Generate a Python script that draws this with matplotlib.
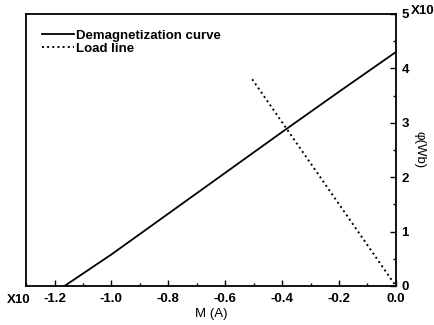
import numpy as np
from matplotlib import pyplot as plt
from matplotlib import ticker as tk

# demagnetization curve
demag_m = [-1.165, -1.0, -0.8, -0.6, -0.4, -0.2, 0.0]
demag_phi = [0.0, 0.58, 1.33, 2.08, 2.83, 3.57, 4.30]

# load line
load_m = [-0.505, 0.0]
load_phi = [3.80, 0.0]

xticks = [-1.2, -1.0, -0.8, -0.6, -0.4, -0.2, 0.0]
yticks = [0, 1, 2, 3, 4, 5]

plt.rcParams.update({'font.family': 'Liberation Sans', 'font.weight': 'bold',
                     'font.size': 9.5})

fig = plt.figure(figsize=(4.35, 3.25), dpi=100)
ax = fig.add_axes([0.06, 0.12, 0.85, 0.837])

ax.plot(demag_m, demag_phi, '-', color='black', linewidth=1.3,
        label='Demagnetization curve')
ax.plot(load_m, load_phi, ':', color='black', linewidth=1.4,
        label='Load line')

ax.set_xlim(-1.3, 0.0)
ax.set_ylim(0, 5)

ax.set_xticks(xticks)
ax.xaxis.set_major_formatter(tk.FormatStrFormatter('%.1f'))
ax.xaxis.set_minor_locator(tk.MultipleLocator(0.1))
ax.set_yticks(yticks)
ax.yaxis.set_minor_locator(tk.MultipleLocator(0.5))

ax.yaxis.tick_right()
ax.yaxis.set_label_position('right')
ax.tick_params(which='both', direction='in', top=False, left=False,
               right=True, bottom=True, width=1.0)
ax.tick_params(which='major', length=4)
ax.tick_params(axis='y', which='major', pad=4)
ax.tick_params(axis='x', which='major', pad=5)
ax.tick_params(which='minor', length=2)
for s in ax.spines.values():
    s.set_linewidth(1.3)

ax.set_xlabel('M (A)', labelpad=2)
ax.set_ylabel('φ(Wb)', rotation=-90, labelpad=12)

fig.text(19 / 435, 1 - 300 / 325, 'X10', ha='center', va='center')
fig.text(423 / 435, 1 - 11 / 325, 'X10', ha='center', va='center')

ax.legend(loc='upper left', frameon=False, handlelength=2.4,
          handletextpad=0.2, labelspacing=0.05, borderaxespad=0.9,
          borderpad=0.3)

plt.savefig('out.png', dpi=100)
